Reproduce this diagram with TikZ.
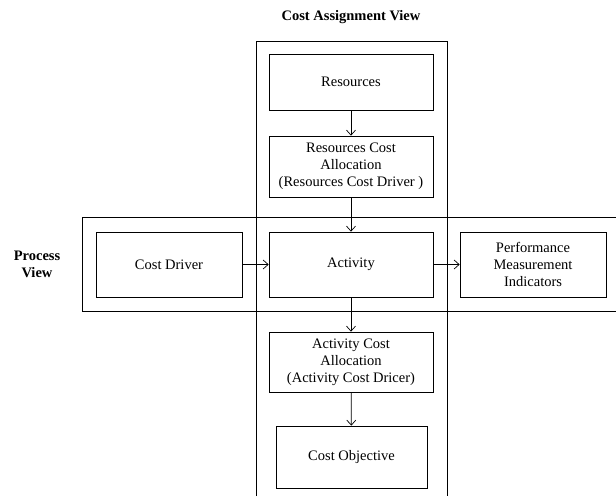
\documentclass[tikz,border=0pt]{standalone}
\usepackage{fontspec}
\setmainfont{Liberation Serif}
\usepackage{tikz}
\usetikzlibrary{arrows.meta}

\begin{document}
\begin{tikzpicture}
    [x=1pt,y=-1pt,->,>={Straight Barb[length=5pt,width=9pt]},line width=0.7pt,
      box/.style={draw,rectangle,align=center,inner sep=0pt,font=\fontsize{14.5}{17}\selectfont},
      view/.style={align=center,font=\fontsize{14.5}{17}\selectfont\bfseries}]
      \useasboundingbox (0,0) rectangle (616,496);

      % frames of the two views
      \draw[-] (256,496) -- (256,41) -- (447,41) -- (447,496);
      \draw[-] (616,217) -- (82,217) -- (82,311) -- (616,311);

      \node[view] (assign) at (351,17) {Cost Assignment View};
      \node[view] (process) at (37,264) {Process\\View};

      \node[box,minimum width=164pt,minimum height=56pt] (res) at (351,82) {Resources};
      \node[box,minimum width=164pt,minimum height=61pt] (rca) at (351,166.5) {Resources Cost\\Allocation\\(Resources Cost Driver )};
      \node[box,minimum width=146pt,minimum height=65pt] (cdrv) at (169,264.5) {Cost Driver};
      \node[box,minimum width=164pt,minimum height=65pt] (act) at (351,264.5) {Activity};
      \node[box,minimum width=146pt,minimum height=65pt] (pmi) at (533,264.5) {Performance\\Measurement\\Indicators};
      \node[box,minimum width=164pt,minimum height=60pt] (aca) at (351,362) {Activity Cost\\Allocation\\(Activity Cost Dricer)};
      \node[box,minimum width=151pt,minimum height=62pt] (cobj) at (351.5,457) {Cost Objective};

      \foreach \from/\to in {
	  res/rca,rca/act,cdrv/act,act/pmi,act/aca,aca/cobj}
	\draw (\from) -- (\to);

    \end{tikzpicture}
\end{document}
